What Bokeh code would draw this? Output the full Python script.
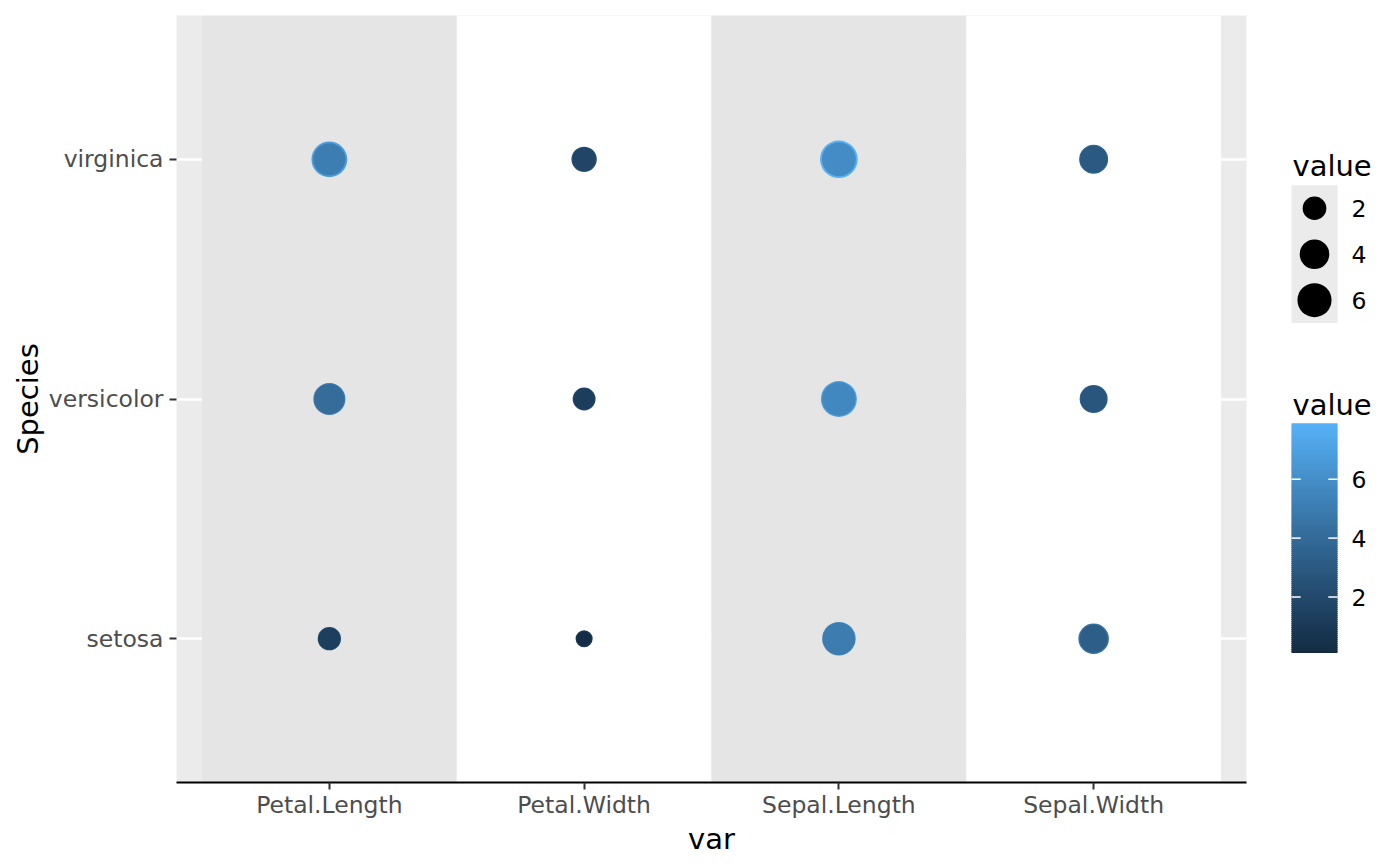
import numpy as np
from bokeh.plotting import figure
from bokeh.models import FactorRange, Range1d, ColumnDataSource
from bokeh.layouts import row
from bokeh.embed import file_html
from bokeh.resources import INLINE
from bokeh.core.properties import value

# ---------------- data ----------------
species = ["setosa", "versicolor", "virginica"]
variables = ["Petal.Length", "Petal.Width", "Sepal.Length", "Sepal.Width"]

# largest value in each cell (drawn first, shows as outer ring)
max_vals = {
    "setosa":     [1.9, 0.6, 5.8, 4.4],
    "versicolor": [5.1, 1.8, 7.0, 3.4],
    "virginica":  [6.9, 2.5, 7.9, 3.8],
}
# last value drawn in each cell (on top)
last_vals = {
    "setosa":     [1.4, 0.2, 5.0, 3.3],
    "versicolor": [4.1, 1.3, 5.7, 2.8],
    "virginica":  [5.1, 1.8, 5.9, 3.0],
}
vmin, vmax = 0.1, 7.9
size_breaks = [2, 4, 6]
color_breaks = [2, 4, 6]

# ---------------- scales ----------------
def srgb_to_lab(hexc):
    r, g, b = [int(hexc[i:i + 2], 16) / 255 for i in (1, 3, 5)]
    def lin(c):
        return c / 12.92 if c <= 0.04045 else ((c + 0.055) / 1.055) ** 2.4
    r, g, b = lin(r), lin(g), lin(b)
    X = 0.4124 * r + 0.3576 * g + 0.1805 * b
    Y = 0.2126 * r + 0.7152 * g + 0.0722 * b
    Z = 0.0193 * r + 0.1192 * g + 0.9505 * b
    Xn, Yn, Zn = 0.95047, 1.0, 1.08883
    def f(t):
        return t ** (1 / 3) if t > 0.008856 else 7.787 * t + 16 / 116
    fx, fy, fz = f(X / Xn), f(Y / Yn), f(Z / Zn)
    return 116 * fy - 16, 500 * (fx - fy), 200 * (fy - fz)

def lab_to_hex(L, a, b):
    fy = (L + 16) / 116
    fx = fy + a / 500
    fz = fy - b / 200
    def finv(t):
        return t ** 3 if t ** 3 > 0.008856 else (t - 16 / 116) / 7.787
    X, Y, Z = 0.95047 * finv(fx), 1.0 * finv(fy), 1.08883 * finv(fz)
    r = 3.2406 * X - 1.5372 * Y - 0.4986 * Z
    g = -0.9689 * X + 1.8758 * Y + 0.0415 * Z
    bb = 0.0557 * X - 0.2040 * Y + 1.0570 * Z
    def gam(c):
        c = 12.92 * c if c <= 0.0031308 else 1.055 * c ** (1 / 2.4) - 0.055
        return int(round(min(max(c, 0), 1) * 255))
    return "#%02x%02x%02x" % (gam(r), gam(g), gam(bb))

LOW, HIGH = srgb_to_lab("#132B43"), srgb_to_lab("#56B1F7")

def color_of(v):
    t = (v - vmin) / (vmax - vmin)
    t = min(max(t, 0), 1)
    return lab_to_hex(*[LOW[i] + (HIGH[i] - LOW[i]) * t for i in range(3)])

def size_of(v):
    t = (v - vmin) / (vmax - vmin)
    s = 1 + 5 * np.sqrt(max(t, 0))
    return 5.5 * s + 4.6

FONT = "DejaVu Sans"
H = 858
TOP, BOTTOM = 15, 75

# ---------------- main plot ----------------
p = figure(
    x_range=FactorRange(factors=variables, range_padding=0.1, range_padding_units="absolute"),
    y_range=FactorRange(factors=species, range_padding=0.1, range_padding_units="absolute"),
    width=1258, height=H, output_backend="svg", toolbar_location=None,
    min_border_left=176, min_border_right=12, min_border_top=TOP, min_border_bottom=BOTTOM,
    background_fill_color="#EBEBEB", border_fill_color="white", outline_line_color=None,
)

p.xgrid.grid_line_color = None
p.ygrid.grid_line_color = "white"
p.ygrid.grid_line_width = 2.5

# alternating bands, one per variable
band_colors = ["#E5E5E5" if i % 2 == 0 else "#FFFFFF" for i in range(len(variables))]
p.vbar(x=variables, width=1, bottom=-5, top=10, fill_color=band_colors, line_color=None)

# points
xs, ys, cs, ss = [], [], [], []
for vals in (max_vals, last_vals):
    for sp in species:
        for var, v in zip(variables, vals[sp]):
            xs.append(var)
            ys.append(sp)
            cs.append(color_of(v))
            ss.append(size_of(v))
src = ColumnDataSource(dict(x=xs, y=ys, c=cs, s=ss))
p.scatter(x="x", y="y", size="s", fill_color="c", line_color=None, source=src)

for ax in (p.xaxis[0], p.yaxis[0]):
    ax.major_tick_line_color = "#333333"
    ax.major_tick_line_width = 2
    ax.major_tick_out = 7
    ax.major_tick_in = 0
    ax.minor_tick_line_color = None
    ax.major_label_text_font = FONT
    ax.major_label_text_font_size = "23.5px"
    ax.major_label_text_color = "#4D4D4D"
    ax.axis_label_text_font = FONT
    ax.axis_label_text_font_size = "29px"
    ax.axis_label_text_font_style = "normal"
    ax.axis_label_text_color = "black"

p.xaxis.axis_label = "var"
p.yaxis.axis_label = "Species"
p.xaxis.axis_line_color = "black"
p.xaxis.axis_line_width = 2.2
p.yaxis.axis_line_color = None
p.xaxis.major_label_standoff = 1
p.xaxis.axis_label_standoff = 0
p.yaxis.major_label_standoff = 6
p.yaxis.axis_label_standoff = 1

# ---------------- legend panel ----------------
# y coordinates of this panel are page pixels (its frame is aligned with the main frame)
LW = 126
leg = figure(
    width=LW, height=H, x_range=Range1d(0, LW), y_range=Range1d(H - BOTTOM, TOP),
    output_backend="svg", toolbar_location=None,
    min_border_left=0, min_border_right=0, min_border_top=TOP, min_border_bottom=BOTTOM,
    outline_line_color=None, background_fill_color="white", border_fill_color="white",
)
leg.axis.visible = False
leg.grid.visible = False

key_left, key_w, key_h = 33, 46, 46
size_top = 185
lab_x = 93

# size legend
leg.text(x=[34], y=[166], text=["value"], text_font=value(FONT), text_font_size="29px",
         text_baseline="alphabetic", text_align="left", text_color="black")
leg.quad(left=[key_left], right=[key_left + key_w], top=[size_top],
         bottom=[size_top + key_h * len(size_breaks)], fill_color="#EBEBEB", line_color=None)
ky = [size_top + key_h * (i + 0.5) for i in range(len(size_breaks))]
leg.scatter(x=[key_left + key_w / 2] * len(size_breaks), y=ky,
            size=[size_of(b) for b in size_breaks], fill_color="black", line_color=None)
leg.text(x=[lab_x] * len(size_breaks), y=ky, text=[str(b) for b in size_breaks],
         text_font=value(FONT), text_font_size="23.5px", text_baseline="middle",
         text_align="left", text_color="black")

# colour bar
cb_top, cb_bot = 423.3, 653.3
def cb_y(v):
    return cb_bot - (v - vmin) / (vmax - vmin) * (cb_bot - cb_top)

leg.text(x=[34], y=[405], text=["value"], text_font=value(FONT), text_font_size="29px",
         text_baseline="alphabetic", text_align="left", text_color="black")
nseg = 115
edges = np.linspace(vmin, vmax, nseg + 1)
mids = (edges[:-1] + edges[1:]) / 2
leg.quad(left=key_left, right=key_left + key_w,
         top=[cb_y(e) for e in edges[1:]],
         bottom=[min(cb_y(e) + 1.0, cb_bot) for e in edges[:-1]],
         fill_color=[color_of(m) for m in mids], line_color=None)
tick_len = key_w / 5
for b in color_breaks:
    yy = cb_y(b)
    leg.segment(x0=[key_left, key_left + key_w - tick_len], x1=[key_left + tick_len, key_left + key_w],
                y0=[yy, yy], y1=[yy, yy], line_color="white", line_width=1.5)
leg.text(x=[lab_x] * len(color_breaks), y=[cb_y(b) for b in color_breaks],
         text=[str(b) for b in color_breaks], text_font=value(FONT), text_font_size="23.5px",
         text_baseline="middle", text_align="left", text_color="black")

layout = row(p, leg)
open("out.html", "w").write(file_html(layout, INLINE))
